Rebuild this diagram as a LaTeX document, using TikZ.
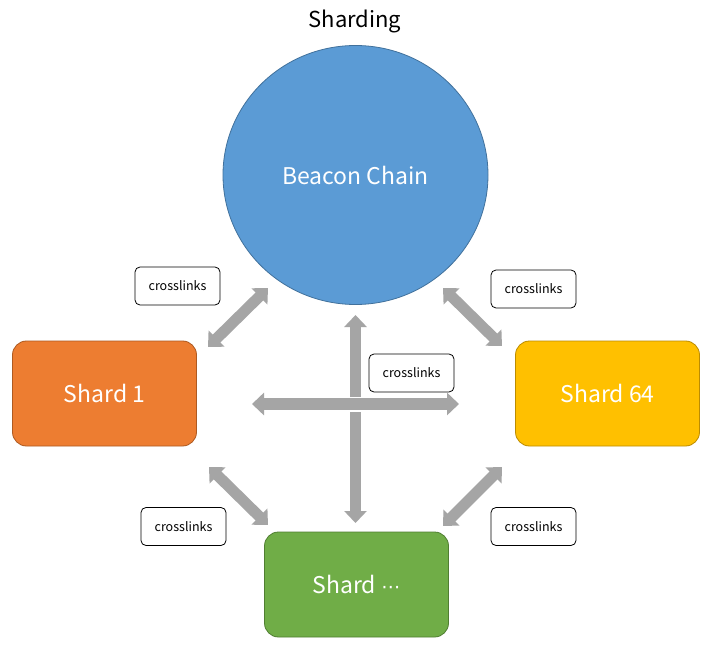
\documentclass[tikz,border=0pt]{standalone}
\usepackage{fontspec}
\setmainfont{Noto Sans CJK SC}
\newfontfamily\symfont{DejaVu Sans}
\usetikzlibrary{arrows.meta,shapes.geometric}
\definecolor{beaconfill}{HTML}{5B9BD5}
\definecolor{beacondraw}{HTML}{41719C}
\definecolor{orangefill}{HTML}{ED7D31}
\definecolor{orangedraw}{HTML}{AE5A21}
\definecolor{goldfill}{HTML}{FFC000}
\definecolor{golddraw}{HTML}{BC8C00}
\definecolor{greenfill}{HTML}{70AD47}
\definecolor{greendraw}{HTML}{507E32}
\definecolor{arrowgray}{HTML}{A5A5A5}
\begin{document}
\begin{tikzpicture}[x=1pt,y=-1pt,
  shardbox/.style={rounded corners=14pt, minimum width=184pt, minimum height=105pt,
    inner sep=0pt, text=white, font=\fontsize{23}{27}\selectfont, line width=0.8pt},
  linkbox/.style={draw=black, fill=white, rounded corners=5pt, minimum width=85pt,
    minimum height=38pt, inner sep=0pt, font=\fontsize{12.5}{15}\selectfont, line width=0.8pt},
  blockarrow/.style={draw=arrowgray, line width=11pt,
    {Triangle[width=22pt,length=12pt]}-{Triangle[width=22pt,length=12pt]}}]
\useasboundingbox (0,0) rectangle (713,650);
\fill[white] (0,0) rectangle (713,650);

\node[font=\fontsize{22}{26}\selectfont] (title) at (355,21) {Sharding};

\node[ellipse, minimum width=265pt, minimum height=259pt, inner sep=0pt,
  fill=beaconfill, draw=beacondraw, line width=0.8pt, text=white,
  font=\fontsize{23}{27}\selectfont] (beacon) at (355.5,175) {Beacon Chain};

\node[shardbox, fill=orangefill, draw=orangedraw] (s1) at (104.5,393.5) {Shard 1};
\node[shardbox, fill=goldfill, draw=golddraw] (s64) at (607.5,393.5) {Shard 64};
\node[shardbox, fill=greenfill, draw=greendraw] (sx) at (356.5,584.5) {Shard {\symfont\fontsize{19}{23}\selectfont ⋯}};

\node[linkbox] (l1) at (177.5,286) {crosslinks};
\node[linkbox] (l2) at (533.5,289) {crosslinks};
\node[linkbox] (l3) at (411.5,373) {crosslinks};
\node[linkbox] (l4) at (183.5,526.5) {crosslinks};
\node[linkbox] (l5) at (533.5,526.5) {crosslinks};

% arrow end points
\coordinate (a1s) at (208,347);  \coordinate (a1e) at (268,288);
\coordinate (a2s) at (443,288);  \coordinate (a2e) at (502,346);
\coordinate (a3s) at (209,467);  \coordinate (a3e) at (268,525);
\coordinate (a4s) at (502,467);  \coordinate (a4e) at (443,526);
\coordinate (vs) at (355.5,315); \coordinate (ve) at (355.5,523);
\coordinate (hs) at (252,404);   \coordinate (he) at (459,404);
\coordinate (gapl) at (346,404); \coordinate (gapr) at (365,404);

\draw[blockarrow] (a1s) -- (a1e);
\draw[blockarrow] (a2s) -- (a2e);
\draw[blockarrow] (a3s) -- (a3e);
\draw[blockarrow] (a4s) -- (a4e);
\draw[blockarrow] (vs) -- (ve);
\draw[white, line width=15pt] (gapl) -- (gapr);
\draw[blockarrow, line width=12pt] (hs) -- (he);
\end{tikzpicture}
\end{document}
